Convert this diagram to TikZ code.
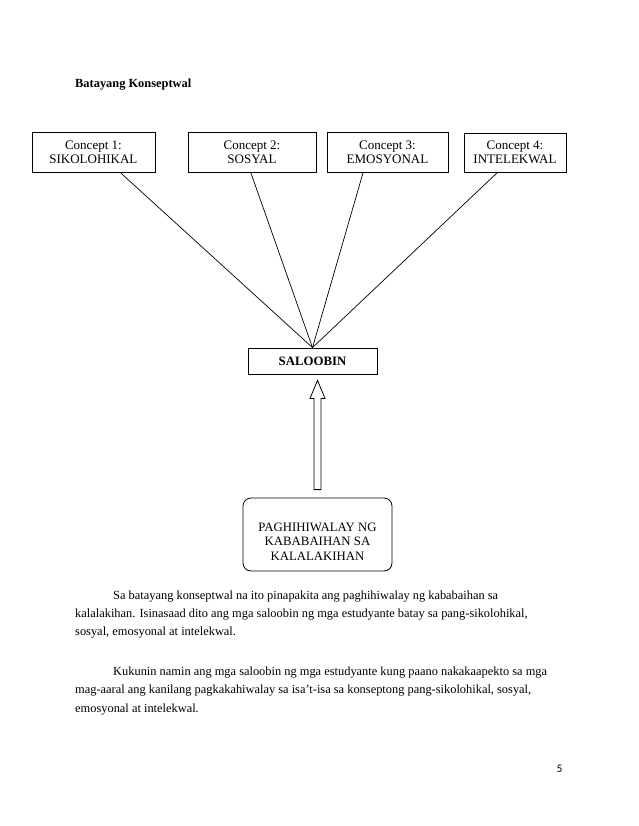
\documentclass[tikz,border=0pt]{standalone}
\usepackage{fontspec}
\setmainfont{Liberation Serif}
\newfontfamily\pagefont{Carlito}
\usetikzlibrary{calc}
\begin{document}
\begin{tikzpicture}[x=1pt,y=-1pt,
  conc/.style={draw,line width=0.8pt,minimum height=40pt,inner sep=0pt,align=center,
    font=\fontsize{13}{14}\selectfont},
  para/.style={anchor=base west,inner sep=0pt,font=\fontsize{12.4}{15}\selectfont},
  link/.style={line width=0.7pt}]
\useasboundingbox (0,0) rectangle (638,826);
\fill[white] (0,0) rectangle (638,826);
\node[anchor=base west,inner sep=0pt,font=\fontsize{12.4}{15}\selectfont\bfseries] (title) at (75,88) {Batayang Konseptwal};
\node[conc,minimum width=123pt] (c1) at (93.4,152) {Concept 1:\\SIKOLOHIKAL};
\node[conc,minimum width=128pt] (c2) at (252,152) {Concept 2:\\SOSYAL};
\node[conc,minimum width=121pt] (c3) at (387.5,152) {Concept 3:\\EMOSYONAL};
\node[conc,minimum width=102pt,minimum height=39pt] (c4) at (515,152.5) {Concept 4:\\INTELEKWAL};
\node[draw,line width=0.8pt,minimum width=129pt,minimum height=26pt,inner sep=0pt,
  font=\fontsize{12.8}{14}\selectfont\bfseries] (sal) at (312.5,361) {SALOOBIN};
\node[draw,line width=0.8pt,rounded corners=8pt,minimum width=149pt,minimum height=73pt,inner sep=0pt] (bot) at (317.5,534.5) {};
\node[align=center,inner sep=0pt,font=\fontsize{12.8}{14.5}\selectfont] (bottxt) at ($(bot.center)+(0,7)$) {PAGHIHIWALAY NG\\KABABAIHAN SA\\KALALAKIHAN};
\draw[link] ($(c1.south west)!0.716!(c1.south east)$) -- (sal.north);
\draw[link] ($(c2.south west)!0.49!(c2.south east)$) -- (sal.north);
\draw[link] ($(c3.south west)!0.30!(c3.south east)$) -- (sal.north);
\draw[link] ($(c4.south west)!0.33!(c4.south east)$) -- (sal.north);
% hollow arrow from bottom box to SALOOBIN
\coordinate (ab) at ($(bot.north)+(0,-8)$);
\coordinate (at) at ($(sal.south)+(5,6)$);
\draw[line width=0.8pt,line join=miter]
  ($(ab)+(-3.5,0)$) -- ($(at)+(-3.5,18)$) -- ($(at)+(-7.5,18)$) -- (at)
  -- ($(at)+(7.5,18)$) -- ($(at)+(3.5,18)$) -- ($(ab)+(3.5,0)$) -- cycle;
\node[para] (p1) at (113,599) {Sa batayang konseptwal na ito pinapakita ang paghihiwalay ng kababaihan sa};
\node[para] (p2) at (75,617) {kalalakihan. Isinasaad dito ang mga saloobin ng mga estudyante batay sa pang-sikolohikal,};
\node[para] (p3) at (75,635) {sosyal, emosyonal at intelekwal.};
\node[para] (p4) at (113,675) {Kukunin namin ang mga saloobin ng mga estudyante kung paano nakakaapekto sa mga};
\node[para] (p5) at (75,693) {mag-aaral ang kanilang pagkakahiwalay sa isa't-isa sa konseptong pang-sikolohikal, sosyal,};
\node[para] (p6) at (75,712) {emosyonal at intelekwal.};
\node[anchor=base,inner sep=0pt,font=\pagefont\fontsize{11.5}{13}\selectfont] (pg) at (559.5,772) {5};
\end{tikzpicture}
\end{document}
